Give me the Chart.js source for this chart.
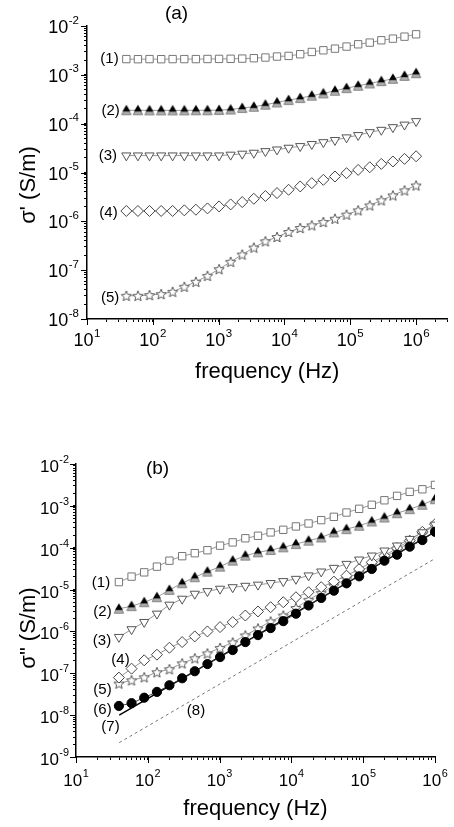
<!DOCTYPE html>
<html><head><meta charset="utf-8">
<script src="https://cdn.jsdelivr.net/npm/chart.js@4.4.0/dist/chart.umd.min.js"></script>
<style>
html,body{margin:0;padding:0;background:#fff;width:454px;height:827px;overflow:hidden}
#ca{position:absolute;left:0;top:0}
#cb{position:absolute;left:0;top:420px}
</style></head><body>
<canvas id="ca" width="454" height="400"></canvas>
<canvas id="cb" width="454" height="407"></canvas>
<script>
// ---------- data ----------
const freq = [39.6, 59.4, 89.1, 134, 200, 301, 451, 677, 1015, 1522, 2284, 3425, 5138, 7707, 11561, 17342, 26012, 39018, 58528, 87791, 131687, 197531, 296296, 444444, 666667, 1000000];

// panel (a): sigma'
const a1 = [2.10e-3, 2.09e-3, 2.10e-3, 2.09e-3, 2.10e-3, 2.10e-3, 2.10e-3, 2.11e-3, 2.12e-3, 2.13e-3, 2.15e-3, 2.19e-3, 2.26e-3, 2.37e-3, 2.44e-3, 2.64e-3, 2.94e-3, 3.18e-3, 3.44e-3, 3.79e-3, 4.22e-3, 4.57e-3, 5.10e-3, 5.51e-3, 6.05e-3, 6.76e-3];
const a2 = [1.88e-4, 1.88e-4, 1.87e-4, 1.87e-4, 1.87e-4, 1.87e-4, 1.88e-4, 1.88e-4, 1.90e-4, 1.95e-4, 2.09e-4, 2.22e-4, 2.44e-4, 2.72e-4, 3.04e-4, 3.34e-4, 3.73e-4, 4.16e-4, 4.71e-4, 5.34e-4, 5.97e-4, 6.66e-4, 7.43e-4, 8.28e-4, 9.50e-4, 1.08e-3];
const a3 = [2.22e-5, 2.22e-5, 2.22e-5, 2.22e-5, 2.22e-5, 2.22e-5, 2.22e-5, 2.22e-5, 2.22e-5, 2.30e-5, 2.41e-5, 2.52e-5, 2.72e-5, 2.94e-5, 3.19e-5, 3.45e-5, 3.80e-5, 4.15e-5, 4.60e-5, 5.20e-5, 5.80e-5, 6.65e-5, 7.43e-5, 8.42e-5, 9.50e-5, 1.12e-4];
const a4 = [1.63e-6, 1.63e-6, 1.63e-6, 1.63e-6, 1.63e-6, 1.68e-6, 1.73e-6, 1.84e-6, 2.02e-6, 2.22e-6, 2.48e-6, 2.90e-6, 3.30e-6, 3.79e-6, 4.43e-6, 5.18e-6, 6.05e-6, 7.08e-6, 8.28e-6, 9.68e-6, 1.13e-5, 1.28e-5, 1.50e-5, 1.68e-5, 1.90e-5, 2.15e-5];
const a5 = [2.99e-8, 2.99e-8, 3.09e-8, 3.24e-8, 3.61e-8, 4.57e-8, 5.78e-8, 7.66e-8, 1.05e-7, 1.48e-7, 2.09e-7, 2.90e-7, 3.90e-7, 4.79e-7, 6.05e-7, 7.31e-7, 8.28e-7, 9.68e-7, 1.13e-6, 1.37e-6, 1.68e-6, 2.12e-6, 2.69e-6, 3.40e-6, 4.30e-6, 5.43e-6];

// panel (b): sigma''
const b1 = [1.51e-5, 2.04e-5, 2.58e-5, 3.53e-5, 4.90e-5, 6.28e-5, 7.40e-5, 8.71e-5, 1.12e-4, 1.34e-4, 1.68e-4, 1.93e-4, 2.32e-4, 2.68e-4, 3.22e-4, 3.79e-4, 4.56e-4, 5.47e-4, 6.93e-4, 8.49e-4, 1.06e-3, 1.36e-3, 1.73e-3, 2.16e-3, 2.49e-3, 3.16e-3];
const b2 = [3.47e-6, 4.01e-6, 4.99e-6, 6.56e-6, 9.82e-6, 1.42e-5, 1.97e-5, 2.68e-5, 3.53e-5, 4.90e-5, 6.45e-5, 7.74e-5, 8.79e-5, 1.02e-4, 1.22e-4, 1.47e-4, 1.76e-4, 2.32e-4, 2.78e-4, 3.34e-4, 4.23e-4, 5.27e-4, 6.68e-4, 8.33e-4, 1.06e-3, 1.44e-3];
const b3 = [7.33e-7, 1.12e-6, 1.67e-6, 2.64e-6, 4.32e-6, 6.00e-6, 7.89e-6, 9.12e-6, 1.04e-5, 1.13e-5, 1.22e-5, 1.30e-5, 1.42e-5, 1.58e-5, 1.79e-5, 2.16e-5, 2.68e-5, 3.28e-5, 4.08e-5, 5.18e-5, 6.45e-5, 8.49e-5, 1.12e-4, 1.61e-4, 2.32e-4, 3.53e-4];
const b4 = [7.88e-8, 1.29e-7, 2.04e-7, 2.78e-7, 4.08e-7, 5.57e-7, 7.60e-7, 1.00e-6, 1.27e-6, 1.67e-6, 2.40e-6, 3.00e-6, 3.79e-6, 4.99e-6, 6.56e-6, 8.64e-6, 1.14e-5, 1.55e-5, 2.15e-5, 3.10e-5, 4.48e-5, 6.45e-5, 9.80e-5, 1.47e-4, 2.40e-4, 3.65e-4];
const b5 = [5.69e-8, 6.81e-8, 8.03e-8, 1.06e-7, 1.25e-7, 1.73e-7, 2.28e-7, 2.99e-7, 4.04e-7, 5.47e-7, 8.03e-7, 1.18e-6, 1.73e-6, 2.40e-6, 3.63e-6, 5.69e-6, 8.34e-6, 1.24e-5, 1.80e-5, 2.58e-5, 3.94e-5, 5.87e-5, 8.81e-5, 1.34e-4, 2.12e-4, 3.53e-4];
const b6 = [1.66e-8, 1.93e-8, 2.61e-8, 3.59e-8, 5.18e-8, 7.60e-8, 1.12e-7, 1.66e-7, 2.44e-7, 3.59e-7, 5.56e-7, 8.17e-7, 1.20e-6, 1.76e-6, 2.65e-6, 4.17e-6, 6.30e-6, 9.40e-6, 1.41e-5, 2.07e-5, 3.11e-5, 4.90e-5, 6.81e-5, 1.06e-4, 1.52e-4, 2.40e-4];
const line7F = [40, 1000000], line7V = [1.0e-8, 2.4e-4];
const line8F = [40, 1000000], line8V = [2.2e-9, 5.5e-5];

// tick labels (exponents of 10)
const xDecA = [1, 2, 3, 4, 5, 6];
const yDecA = [-8, -7, -6, -5, -4, -3, -2];
const xDecB = [1, 2, 3, 4, 5, 6];
const yDecB = [-9, -8, -7, -6, -5, -4, -3, -2];

// curve labels and their anchors (frequency, value)
const labA = ['(1)', '(2)', '(3)', '(4)', '(5)'];
const labAF = [22.0, 22.8, 20.8, 21.2, 22.4];
const labAV = [2.12e-3, 1.84e-4, 2.22e-5, 1.46e-6, 2.69e-8];
const labB = ['(1)', '(2)', '(3)', '(4)', '(5)', '(6)', '(7)', '(8)'];
const labBF = [22.3, 23.4, 23.0, 41.7, 23.4, 23.4, 30.2, 469];
const labBV = [1.41e-5, 2.88e-6, 6.11e-7, 2.04e-7, 4.09e-8, 1.32e-8, 5.26e-9, 1.26e-8];

// ---------- styles ----------
const F = '"Liberation Sans", Arial, Helvetica, sans-serif';

function mk(w, h, draw) { const c = document.createElement('canvas'); c.width = w; c.height = h; draw(c.getContext('2d'), w / 2, h / 2); return c; }
function tri(g, cx, cy, R, down) {
  const s = down ? -1 : 1;
  g.beginPath();
  g.moveTo(cx, cy - s * R);
  g.lineTo(cx + R * 0.866, cy + s * R / 2);
  g.lineTo(cx - R * 0.866, cy + s * R / 2);
  g.closePath();
}
function star(g, cx, cy, R, r) {
  g.beginPath();
  for (let i = 0; i < 10; i++) { const a = -Math.PI / 2 + i * Math.PI / 5; const rr = i % 2 ? r : R; g.lineTo(cx + rr * Math.cos(a), cy + rr * Math.sin(a)); }
  g.closePath();
}
const starImg = mk(14, 14, (g, cx, cy) => { star(g, cx, cy + 0.5, 5.4, 2.4); g.fillStyle = '#fff'; g.fill(); g.lineWidth = 1; g.strokeStyle = '#555'; g.stroke(); });
const dtriImg = mk(16, 16, (g, cx, cy) => {
  tri(g, cx, cy + 1.6, 5.4, false); g.fillStyle = '#b4b4b4'; g.fill(); g.lineWidth = 1; g.strokeStyle = '#777'; g.stroke();
  tri(g, cx, cy - 1.0, 4.6, false); g.fillStyle = '#000'; g.fill();
});

function ds(xs, ys, o) {
  return Object.assign({ data: xs.map((f, i) => ({ x: f, y: ys[i] })), borderColor: '#8c8c8c', borderWidth: 0.9, tension: 0,
    pointRadius: 5, pointBackgroundColor: '#fff', pointBorderColor: '#666', pointBorderWidth: 1, fill: false }, o);
}

function logTicks(min, max) {
  const t = [];
  for (let e = Math.floor(Math.log10(min)); e <= Math.ceil(Math.log10(max)); e++) {
    for (let m = 1; m < 10; m++) { const v = m * Math.pow(10, e); if (v >= min * 0.999 && v <= max * 1.001) t.push({ value: v, major: m === 1 }); }
  }
  return t;
}

function drawPow(ctx, x, yb, exp, size, align, rise) {
  const es = size * 0.64;
  ctx.font = size + 'px ' + F; const w1 = ctx.measureText('10').width;
  ctx.font = es + 'px ' + F; const w2 = ctx.measureText(String(exp)).width;
  const tot = w1 + w2 + 0.5;
  const left = align === 'center' ? x - tot / 2 : x - tot;
  ctx.textAlign = 'left'; ctx.textBaseline = 'alphabetic'; ctx.fillStyle = '#000';
  ctx.font = size + 'px ' + F; ctx.fillText('10', left, yb);
  ctx.font = es + 'px ' + F; ctx.fillText(String(exp), left + w1 + 0.5, yb - rise);
}

function textPlugin(c) {
  return {
    id: 'txt',
    afterDraw(chart) {
      const ctx = chart.ctx, xs = chart.scales.x, ys = chart.scales.y, A = chart.chartArea;
      ctx.save();
      // longer major ticks
      ctx.strokeStyle = '#000'; ctx.lineWidth = 1;
      c.xDec.forEach(e => { const px = Math.round(xs.getPixelForValue(Math.pow(10, e))) + 0.5; ctx.beginPath(); ctx.moveTo(px, A.bottom); ctx.lineTo(px, A.bottom + 6); ctx.stroke(); });
      c.yDec.forEach(e => { const py = Math.round(ys.getPixelForValue(Math.pow(10, e))) + 0.5; ctx.beginPath(); ctx.moveTo(A.left, py); ctx.lineTo(A.left - 6, py); ctx.stroke(); });
      // tick labels
      c.xDec.forEach(e => drawPow(ctx, xs.getPixelForValue(Math.pow(10, e)), c.xLabBase, e, c.fs, 'center', c.rise));
      c.yDec.forEach(e => drawPow(ctx, c.yLabRight, ys.getPixelForValue(Math.pow(10, e)) + c.yLabOff, e, c.fs, 'right', c.rise));
      // axis titles
      ctx.fillStyle = '#000';
      ctx.font = '22px ' + F; ctx.textAlign = 'center'; ctx.textBaseline = 'alphabetic';
      ctx.fillText('frequency (Hz)', (A.left + A.right) / 2, c.xTitleBase);
      ctx.save(); ctx.translate(c.yTitleX, c.yTitleY); ctx.rotate(-Math.PI / 2);
      ctx.fillText(c.yTitle, 0, 0); ctx.restore();
      // panel tag
      ctx.font = '19px ' + F; ctx.textBaseline = 'middle';
      ctx.fillText(c.tag, c.tagX, c.tagY);
      // curve labels
      ctx.font = '15px ' + F;
      c.labs.forEach((s, i) => ctx.fillText(s, xs.getPixelForValue(c.labF[i]), ys.getPixelForValue(c.labV[i])));
      ctx.restore();
    }
  };
}

function scales(xmin, xmax, ymin, ymax) {
  const common = { type: 'logarithmic', border: { display: true, color: '#000', width: 1.5 },
    grid: { display: true, drawOnChartArea: false, drawTicks: true, tickLength: 3, color: '#000', tickColor: '#000', lineWidth: 1 },
    ticks: { display: false, autoSkip: false } };
  return {
    x: Object.assign({}, common, { position: 'bottom', min: xmin, max: xmax,
      afterBuildTicks: s => { s.ticks = logTicks(xmin, xmax); }, afterFit: s => { s.height = 12; } }),
    y: Object.assign({}, common, { position: 'left', min: ymin, max: ymax,
      afterBuildTicks: s => { s.ticks = logTicks(ymin, ymax); }, afterFit: s => { s.width = 12; } })
  };
}
const baseOpts = { responsive: false, animation: false, devicePixelRatio: 1, events: [],
  plugins: { legend: { display: false }, tooltip: { enabled: false }, title: { display: false } } };

// ---------- chart (a) ----------
new Chart(document.getElementById('ca'), {
  type: 'line',
  data: { datasets: [
    ds(freq, a1, { pointStyle: 'rect', pointRadius: 5.2, pointBorderColor: '#777' }),
    ds(freq, a2, { pointStyle: dtriImg, pointRadius: 5 }),
    ds(freq, a3, { pointStyle: 'triangle', rotation: 180, pointRotation: 180, pointRadius: 5.3, pointBorderColor: '#555' }),
    ds(freq, a4, { pointStyle: 'rectRot', pointRadius: 5.5, pointBorderColor: '#444' }),
    ds(freq, a5, { pointStyle: starImg, pointRadius: 5 })
  ] },
  options: Object.assign({}, baseOpts, {
    layout: { padding: { left: 75, right: 6, top: 26, bottom: 69 } },
    scales: scales(10, 3e6, 1e-8, 1e-2)
  }),
  plugins: [textPlugin({ xDec: xDecA, yDec: yDecA, fs: 18, rise: 9.5, xLabBase: 346, yLabRight: 79, yLabOff: 7,
    xTitleBase: 378, yTitle: "\u03c3' (S/m)", yTitleX: 35, yTitleY: 185, tag: '(a)', tagX: 176.5, tagY: 14,
    labs: labA, labF: labAF, labV: labAV })]
});

// ---------- chart (b) ----------
const clipR = { left: false, top: false, right: 0, bottom: false };
new Chart(document.getElementById('cb'), {
  type: 'line',
  data: { datasets: [
    ds(freq, b6, { pointStyle: 'circle', pointRadius: 4.6, pointBackgroundColor: '#000', pointBorderColor: '#000', borderColor: '#333', clip: clipR }),
    ds(line7F, line7V, { pointRadius: 0, borderColor: '#000', borderWidth: 1.4, clip: clipR }),
    ds(freq, b1, { pointStyle: 'rect', pointRadius: 5.2, pointBorderColor: '#777', clip: clipR }),
    ds(freq, b2, { pointStyle: dtriImg, pointRadius: 5, clip: clipR }),
    ds(freq, b3, { pointStyle: 'triangle', rotation: 180, pointRotation: 180, pointRadius: 5.3, pointBorderColor: '#555', clip: clipR }),
    ds(freq, b4, { pointStyle: 'rectRot', pointRadius: 5.5, pointBorderColor: '#444', clip: clipR }),
    ds(freq, b5, { pointStyle: starImg, pointRadius: 5, clip: clipR }),
    ds(line8F, line8V, { pointRadius: 0, borderColor: '#777', borderWidth: 1, borderDash: [3, 3], clip: clipR })
  ] },
  options: Object.assign({}, baseOpts, {
    layout: { padding: { left: 64, right: 19, top: 44, bottom: 58 } },
    scales: scales(10, 1e6, 1e-9, 1e-2)
  }),
  plugins: [textPlugin({ xDec: xDecB, yDec: yDecB, fs: 17, rise: 9, xLabBase: 366, yLabRight: 69, yLabOff: 8,
    xTitleBase: 395, yTitle: '\u03c3" (S/m)', yTitleX: 35, yTitleY: 208, tag: '(b)', tagX: 157.5, tagY: 49,
    labs: labB, labF: labBF, labV: labBV })]
});
</script>
</body></html>
